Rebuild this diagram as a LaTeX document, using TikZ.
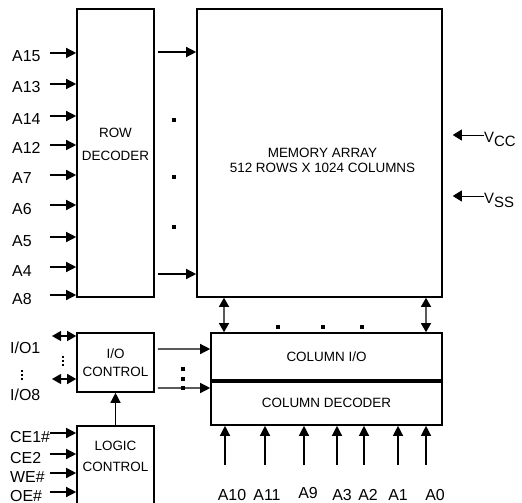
\documentclass[tikz,border=0pt]{standalone}
\usepackage{fontspec}
\setmainfont{Liberation Sans}
\usetikzlibrary{positioning, arrows.meta}
\tikzstyle{block} = [
  rectangle,
  draw=black, line width=1.6bp,
  inner sep=0pt, align=center,
  font=\fontsize{13.5}{18}\selectfont
]
\tikzstyle{blocktext} = [
  inner sep=0pt, align=center
]
\tikzstyle{pinlabel} = [
  anchor=west, inner sep=0pt,
  text height=18bp, text depth=0pt,
  font=\fontsize{16}{16}\selectfont
]
\tikzstyle{collabel} = [
  anchor=base, inner sep=0pt,
  font=\fontsize{16}{16}\selectfont
]
\tikzstyle{supply} = [
  anchor=west, inner sep=0pt,
  text height=16bp, text depth=0pt,
  font=\fontsize{15}{15}\selectfont
]
\tikzset{
  arrow/.style={
    line width=1.3bp,
    -{Triangle[length=10bp,width=10bp]}
  },
  dblarrow/.style={
    line width=1.3bp,
    {Triangle[length=9bp,width=10bp]}-{Triangle[length=9bp,width=10bp]}
  },
  supplyarrow/.style={
    line width=0.7bp,
    -{Triangle[length=9bp,width=11bp]}
  }
}

\begin{document}
\begin{tikzpicture}[x=1bp, y=-1bp]
\useasboundingbox (0,0) rectangle (522,503);

% ------------------------------------------------
% BLOQUES
% ------------------------------------------------

% row decoder
\node[block, minimum width=77bp, minimum height=288bp] (rowdec) at (115.5,153) {};
\node[blocktext, font=\fontsize{13.5}{23}\selectfont] at ([yshift=9bp]rowdec.center) {ROW\\DECODER};

% memory array
\node[block, minimum width=245bp, minimum height=288bp] (memarr) at (319.5,153) {};
\node[blocktext, font=\fontsize{13.5}{15}\selectfont] at ([xshift=3bp,yshift=-7bp]memarr.center) {%
  MEMORY ARRAY\\
  512 ROWS X 1024 COLUMNS
};

% column I/O + column decoder
\node[block, minimum width=231bp, minimum height=47bp] (colio) at (326.5,356.5) {COLUMN I/O};
\node[block, minimum width=231bp, minimum height=45bp] (coldec) at (326.5,402.5) {COLUMN DECODER};
\draw[line width=3.5bp] (colio.south west) -- (colio.south east);

% I/O control
\node[block, minimum width=77bp, minimum height=59bp] (ioctl) at (115.5,362.5) {I/O\\CONTROL};

% logic control
\node[block, minimum width=77bp, minimum height=79bp] (logctl) at (115.5,465.5) {};
\node[blocktext, font=\fontsize{13.5}{21}\selectfont] at ([yshift=9.5bp]logctl.center) {LOGIC\\CONTROL};

% ------------------------------------------------
% ENTRADAS DE DIRECCION (izquierda)
% ------------------------------------------------

\coordinate (pinx) at (50,0);

\node[pinlabel] (a15) at (12,53) {A15};
\node[pinlabel] (a13) at (12,84) {A13};
\node[pinlabel] (a14) at (12,116) {A14};
\node[pinlabel] (a12) at (12,145) {A12};
\node[pinlabel] (a7) at (12,175) {A7};
\node[pinlabel] (a6) at (12,205) {A6};
\node[pinlabel] (a5) at (12,237) {A5};
\node[pinlabel] (a4) at (12,267) {A4};
\node[pinlabel] (a8) at (12,295) {A8};

\draw[arrow] (a15 -| pinx) -- (a15 -| rowdec.west);
\draw[arrow] (a13 -| pinx) -- (a13 -| rowdec.west);
\draw[arrow] (a14 -| pinx) -- (a14 -| rowdec.west);
\draw[arrow] (a12 -| pinx) -- (a12 -| rowdec.west);
\draw[arrow] (a7 -| pinx) -- (a7 -| rowdec.west);
\draw[arrow] (a6 -| pinx) -- (a6 -| rowdec.west);
\draw[arrow] (a5 -| pinx) -- (a5 -| rowdec.west);
\draw[arrow] (a4 -| pinx) -- (a4 -| rowdec.west);
\draw[arrow] (a8 -| pinx) -- (a8 -| rowdec.west);

% row decoder -> memory array
\draw[arrow] ([xshift=3bp,yshift=101bp]rowdec.east) -- ([yshift=101bp]memarr.west);
\draw[arrow] ([xshift=3bp,yshift=-121bp]rowdec.east) -- ([yshift=-121bp]memarr.west);
\foreach \y in {120,177,227}
  \fill (174,\y) +(-1.6,-1.6) rectangle +(1.6,1.6);

% ------------------------------------------------
% ALIMENTACION
% ------------------------------------------------

\node[supply] (vcc) at (484,135) {V\raisebox{-4bp}{CC}};
\node[supply] (vss) at (484,196) {V\raisebox{-4bp}{SS}};
\draw[supplyarrow] (vcc.west) -- ([xshift=10bp]vcc.west -| memarr.east);
\draw[supplyarrow] (vss.west) -- ([xshift=10bp]vss.west -| memarr.east);

% ------------------------------------------------
% MEMORIA <-> COLUMN I/O
% ------------------------------------------------

\draw[dblarrow] ([xshift=-95.5bp]memarr.south) -- ([xshift=-102.5bp]colio.north);
\draw[dblarrow] ([xshift=106.5bp]memarr.south) -- ([xshift=99.5bp]colio.north);
\foreach \x in {278,323,362}
  \fill (\x,327) +(-1.6,-1.6) rectangle +(1.6,1.6);

% ------------------------------------------------
% DATOS I/O
% ------------------------------------------------

\node[pinlabel] (io1) at (10,344) {I/O1};
\node[pinlabel] (io8) at (10,391) {I/O8};
\coordinate (iotail1) at (52,336);
\coordinate (iotail8) at (52,379);
\draw[dblarrow] (iotail1) -- (iotail1 -| ioctl.west);
\draw[dblarrow] (iotail8) -- (iotail8 -| ioctl.west);
\foreach \y in {357,361,365}
  \fill (63,\y) +(-1.1,-1.1) rectangle +(1.1,1.1);
\foreach \y in {371,375,379}
  \fill (22,\y) +(-1.1,-1.1) rectangle +(1.1,1.1);

% I/O control -> columnas
\draw[arrow] ([xshift=3bp,yshift=13.5bp]ioctl.east) -- ([yshift=7.5bp]colio.west);
\draw[arrow] ([xshift=3bp,yshift=-25.5bp]ioctl.east) -- ([yshift=14.5bp]coldec.west);
\foreach \y in {369,379,388}
  \fill (183,\y) +(-1.6,-1.6) rectangle +(1.6,1.6);

% logic control -> I/O control
\draw[arrow] (logctl.north) -- (ioctl.south);

% ------------------------------------------------
% SENALES DE CONTROL
% ------------------------------------------------

\node[pinlabel] (ce1) at (10,433) {CE1\#};
\node[pinlabel] (ce2) at (10,454) {CE2};
\node[pinlabel] (we) at (10,473) {WE\#};
\node[pinlabel] (oe) at (10,492) {OE\#};

\draw[arrow] (ce1 -| pinx) -- (ce1 -| logctl.west);
\draw[arrow] (ce2 -| pinx) -- (ce2 -| logctl.west);
\draw[arrow] (we -| pinx) -- (we -| logctl.west);
\draw[arrow] (oe -| pinx) -- (oe -| logctl.west);

% ------------------------------------------------
% ENTRADAS DE COLUMNA (abajo)
% ------------------------------------------------

\node[collabel] (a10) at (232,500) {A10};
\node[collabel] (a11) at (267,500) {A11};
\node[collabel] (a9) at (308,498) {A9};
\node[collabel] (a3) at (342,500) {A3};
\node[collabel] (a2) at (368,500) {A2};
\node[collabel] (a1) at (398,500) {A1};
\node[collabel] (a0) at (435,500) {A0};

\coordinate (ct10) at (225,465);
\coordinate (ct11) at (265,465);
\coordinate (ct9) at (304,465);
\coordinate (ct3) at (337,465);
\coordinate (ct2) at (364,465);
\coordinate (ct1) at (398,465);
\coordinate (ct0) at (426,465);

\draw[arrow] (ct10) -- (ct10 |- coldec.south);
\draw[arrow] (ct11) -- (ct11 |- coldec.south);
\draw[arrow] (ct9) -- (ct9 |- coldec.south);
\draw[arrow] (ct3) -- (ct3 |- coldec.south);
\draw[arrow] (ct2) -- (ct2 |- coldec.south);
\draw[arrow] (ct1) -- (ct1 |- coldec.south);
\draw[arrow] (ct0) -- (ct0 |- coldec.south);

\end{tikzpicture}
\end{document}
